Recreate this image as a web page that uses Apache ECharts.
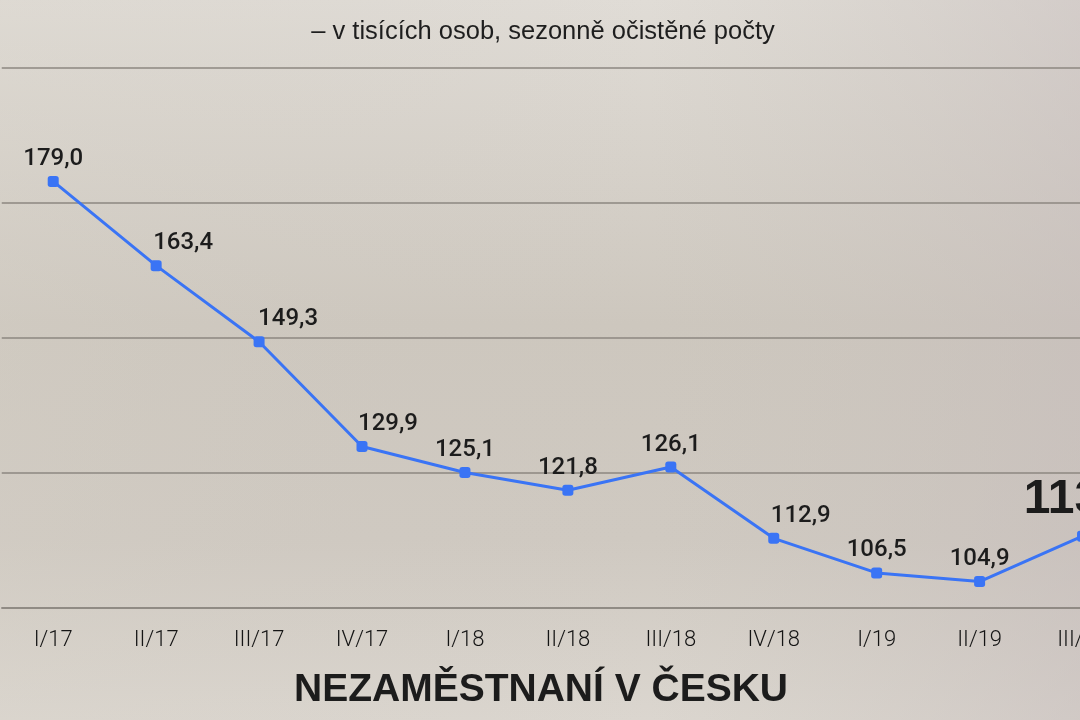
<!DOCTYPE html>
<html>
<head>
<meta charset="utf-8">
<script src="https://cdn.jsdelivr.net/npm/echarts@6/dist/echarts.min.js"></script>
<style>
html,body{margin:0;padding:0;background:#d8d3cc;overflow:hidden;width:1080px;height:720px;}
#chart{width:1134px;height:720px;}
</style>
</head>
<body>
<div id="chart"></div>
<script>
// Data
var categories = ['I/17','II/17','III/17','IV/17','I/18','II/18','III/18','IV/18','I/19','II/19','III/19'];
var values = [179.0, 163.4, 149.3, 129.9, 125.1, 121.8, 126.1, 112.9, 106.5, 104.9, 113.3];
var yTicks = [100, 125, 150, 175, 200];
var subtitleText = '– v tisících osob, sezonně očistěné počty';
var titleText = 'NEZAMĚSTNANÍ V ČESKU';

// Label horizontal shifts (style only)
var labelShift = [0, 27, 29, 26, 0, 0, 0, 27, 0, 0, 0];

function fmt(v){ return v.toFixed(1).replace('.', ','); }

var seriesData = values.map(function(v, i){
  var last = i === values.length - 1;
  return {
    value: v,
    label: last ? {
      fontSize: 48, fontWeight: 900, fontFamily: 'Liberation Sans', color: '#1c1c1c', distance: 7
    } : { offset: [labelShift[i], 0] }
  };
});

var chart = echarts.init(document.getElementById('chart'), null, {renderer: 'canvas'});
chart.setOption({
  backgroundColor: {
    type: 'linear', x: 0, y: 0, x2: 0, y2: 1,
    colorStops: [
      {offset: 0, color: '#e0dcd6'},
      {offset: 0.45, color: '#cdc7be'},
      {offset: 0.75, color: '#cfc9c1'},
      {offset: 1, color: '#dbd6cf'}
    ]
  },
  animation: false,
  graphic: [
    {
      type: 'rect', z: -10, silent: true,
      shape: {x: 0, y: 0, width: 1080, height: 720},
      style: {
        fill: {
          type: 'linear', x: 0, y: 0, x2: 1, y2: 0,
          colorStops: [
            {offset: 0, color: 'rgba(215,210,200,0.25)'},
            {offset: 0.6, color: 'rgba(200,195,188,0)'},
            {offset: 1, color: 'rgba(196,186,186,0.45)'}
          ]
        }
      }
    },
    {
      type: 'text', x: 543, y: 32, z: 10,
      style: {
        text: subtitleText, fontFamily: 'Liberation Sans', fontSize: 25.5,
        fill: '#1e1e1e', textAlign: 'center', textVerticalAlign: 'middle'
      }
    },
    {
      type: 'text', x: 541, y: 690, z: 10,
      style: {
        text: titleText, fontFamily: 'Liberation Sans', fontSize: 39,
        fontWeight: 900, fill: '#1c1c1c', textAlign: 'center', textVerticalAlign: 'middle'
      }
    }
  ],
  grid: {left: 1.75, right: 0, top: 68, height: 540, containLabel: false},
  xAxis: {
    type: 'category',
    data: categories,
    boundaryGap: true,
    axisLine: {show: true, lineStyle: {color: '#8c8780', width: 1.5}},
    axisTick: {show: false},
    axisLabel: {
      color: '#141414', fontSize: 22, fontFamily: 'Roboto', fontWeight: 300, margin: 21
    },
    splitLine: {show: false}
  },
  yAxis: {
    type: 'value',
    min: yTicks[0], max: yTicks[yTicks.length - 1], interval: 25,
    axisLine: {show: false},
    axisTick: {show: false},
    axisLabel: {show: false},
    splitLine: {show: true, lineStyle: {color: '#8c8780', width: 1.5}}
  },
  series: [{
    type: 'line',
    data: seriesData,
    symbol: 'roundRect',
    symbolSize: 11,
    itemStyle: {color: '#3a74f5'},
    lineStyle: {color: '#3a74f5', width: 3},
    label: {
      show: true, position: 'top', distance: 5,
      fontFamily: 'Roboto', fontWeight: 500, fontSize: 24, color: '#1c1c1c',
      formatter: function(p){ return fmt(p.value); }
    },
    z: 5
  }]
});
</script>
</body>
</html>
